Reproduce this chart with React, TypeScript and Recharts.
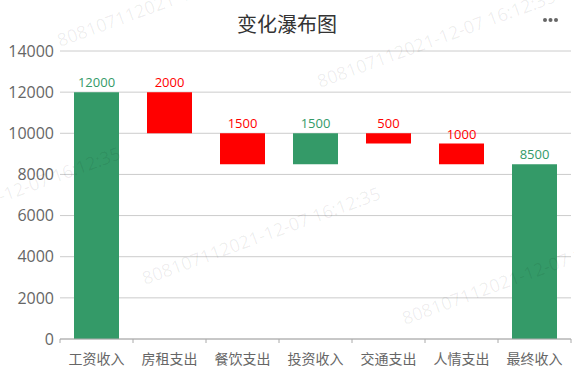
import { Bar, BarChart, CartesianGrid, Cell, LabelList, XAxis, YAxis } from "recharts";

const categories = ["工资收入", "房租支出", "餐饮支出", "投资收入", "交通支出", "人情支出", "最终收入"];
const amounts = [12000, -2000, -1500, 1500, -500, -1000, 8500];
const isTotal = [true, false, false, false, false, false, true];
const yTicks = [0, 2000, 4000, 6000, 8000, 10000, 12000, 14000];

const watermark = "808107112021-12-07 16:12:35";
const watermarkStarts = [
  [60, 47],
  [320, 88],
  [-115, 245],
  [145, 285],
  [405, 325],
];

const GREEN = "#349a68";
const RED = "#ff0000";
const FONT = '"Noto Sans CJK SC", "Noto Sans", sans-serif';
const NUM_FONT = '"Open Sans", "Noto Sans", sans-serif';

const W = 574;
const H = 380;
const LEFT = 60;
const RIGHT = 3;
const BAND = (W - LEFT - RIGHT) / categories.length;

function buildRows() {
  let running = 0;
  return categories.map((name, i) => {
    const amt = amounts[i];
    let base = 0;
    let value = Math.abs(amt);
    if (isTotal[i]) {
      running = amt;
    } else {
      base = amt < 0 ? running + amt : running;
      running += amt;
    }
    return { name, base, value, up: amt >= 0 };
  });
}

const rows = buildRows();

function XTick(props: any) {
  const { x, y, payload, index } = props;
  const half = BAND / 2;
  return (
    <g>
      <line x1={x - half} y1={y} x2={x - half} y2={y + 4} stroke="#aaa" />
      {index === categories.length - 1 && (
        <line x1={x + half} y1={y} x2={x + half} y2={y + 4} stroke="#aaa" />
      )}
      <text
        x={x}
        y={y + 19}
        textAnchor="middle"
        dominantBaseline="central"
        fontSize={14}
        fill="#666"
        fontFamily={FONT}
      >
        {payload.value}
      </text>
    </g>
  );
}

function ValueLabel(props: any) {
  const { x, y, width, value, index } = props;
  const color = rows[index].up ? GREEN : RED;
  return (
    <text
      x={x + width / 2}
      y={y - 5}
      textAnchor="middle"
      fontSize={13}
      fill={color}
      fontFamily={NUM_FONT}
    >
      {value}
    </text>
  );
}

export default function App() {
  return (
    <div style={{ position: "absolute", left: 0, top: 0, width: W, height: H, background: "#fff" }}>
      <BarChart
        width={W}
        height={H}
        data={rows}
        margin={{ top: 51, right: RIGHT, bottom: 0, left: 0 }}
        style={{ fontFamily: FONT }}
      >
        <CartesianGrid vertical={false} stroke="#ccc" />
        <XAxis
          dataKey="name"
          height={41}
          axisLine={{ stroke: "#aaa" }}
          tickLine={false}
          tickSize={0}
          tickMargin={0}
          interval={0}
          tick={<XTick />}
        />
        <YAxis
          width={LEFT}
          domain={[0, 14000]}
          ticks={yTicks}
          axisLine={false}
          tickLine={false}
          tickSize={4}
          tickMargin={2}
          tick={{ fontSize: 16, fill: "#666", fontFamily: NUM_FONT }}
        />
        <Bar dataKey="base" stackId="w" fill="transparent" barSize={45} isAnimationActive={false} />
        <Bar dataKey="value" stackId="w" barSize={45} isAnimationActive={false}>
          {rows.map((r, i) => (
            <Cell key={i} fill={r.up ? GREEN : RED} />
          ))}
          <LabelList dataKey="value" content={<ValueLabel />} />
        </Bar>
      </BarChart>
      <svg
        width={W}
        height={H}
        style={{ position: "absolute", left: 0, top: 0, pointerEvents: "none" }}
      >
        <text
          x={287}
          y={23}
          textAnchor="middle"
          dominantBaseline="central"
          fontSize={20}
          fill="#333"
          fontFamily={FONT}
        >
          变化瀑布图
        </text>
        <circle cx={545} cy={20} r={2} fill="#666" />
        <circle cx={550.5} cy={20} r={2} fill="#666" />
        <circle cx={556} cy={20} r={2} fill="#666" />
        {watermarkStarts.map(([wx, wy], i) => (
          <text
            key={i}
            x={wx}
            y={wy}
            fontSize={18}
            fill="#000"
            fillOpacity={0.07}
            fontFamily={NUM_FONT}
            transform={`rotate(-20 ${wx} ${wy})`}
          >
            {watermark}
          </text>
        ))}
      </svg>
    </div>
  );
}
